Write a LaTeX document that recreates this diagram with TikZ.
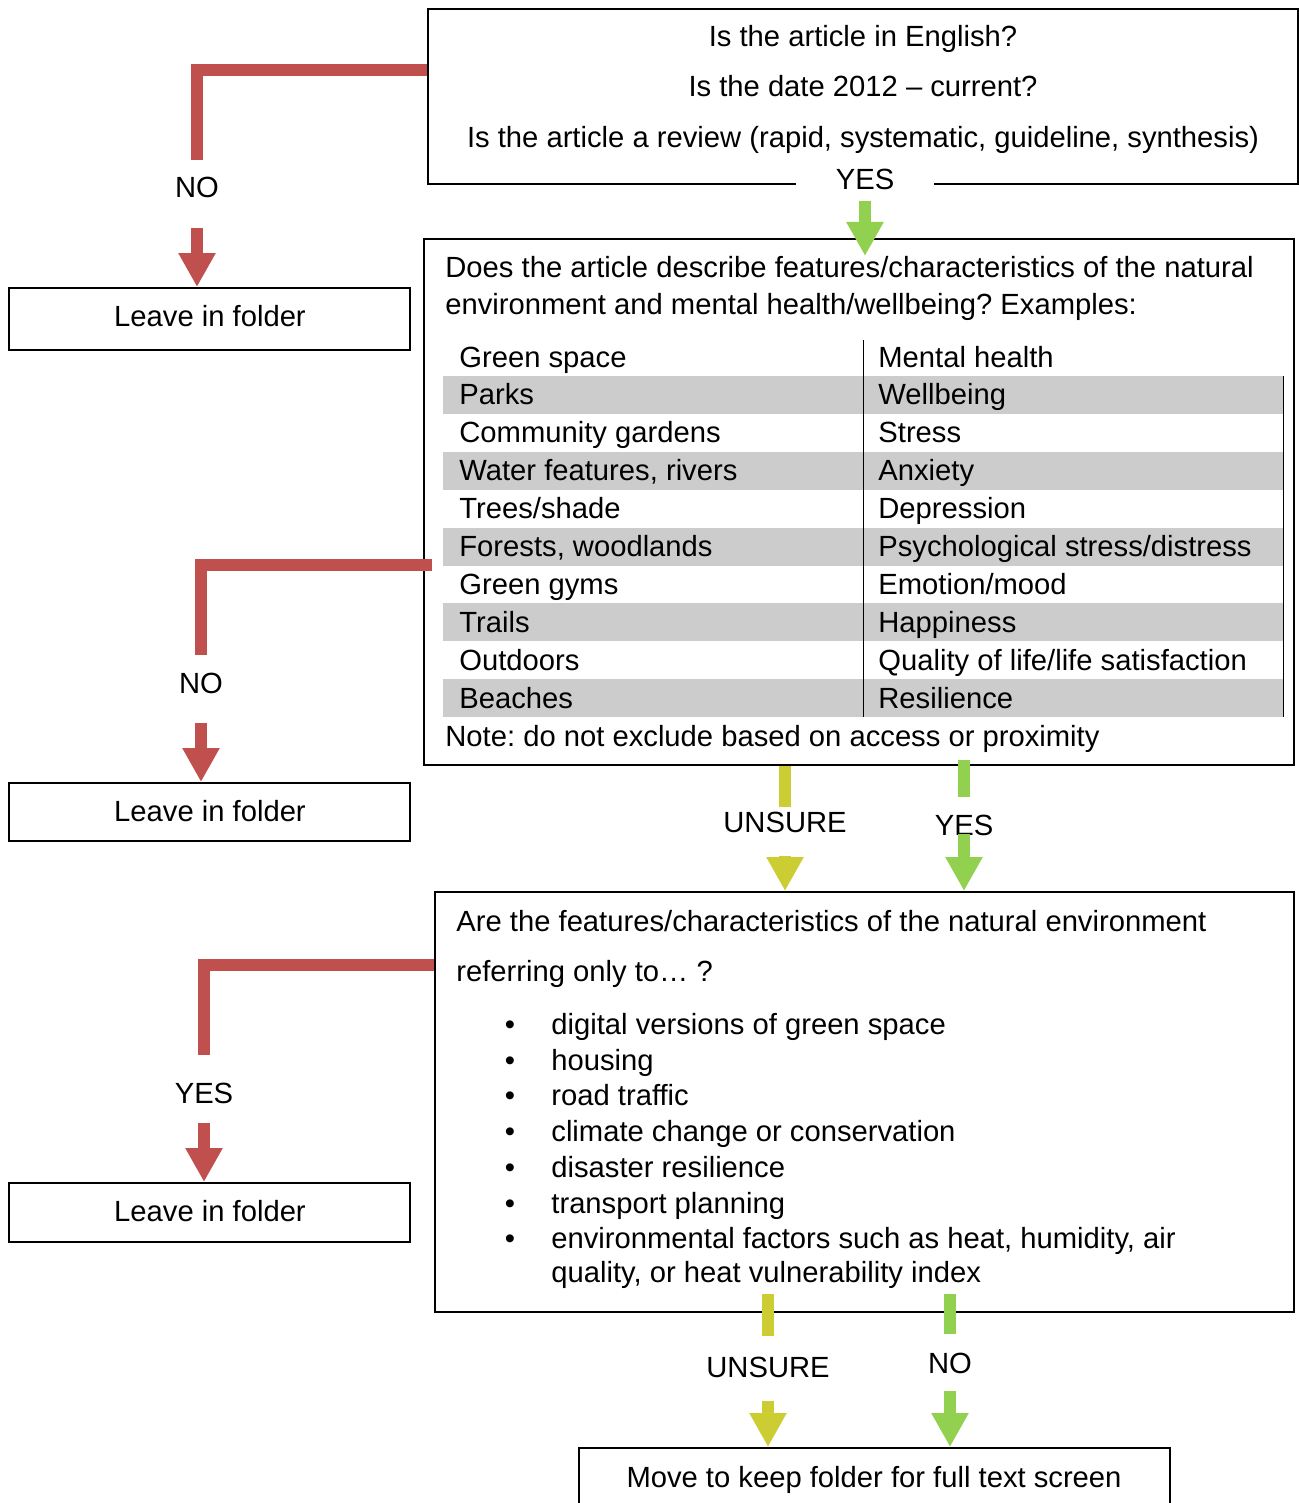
\documentclass[tikz,border=0pt]{standalone}
\usepackage{fontspec}
\setmainfont{Liberation Sans}
\usetikzlibrary{arrows.meta,fit}
\frenchspacing

\definecolor{noRed}{HTML}{C0504D}
\definecolor{yesGreen}{HTML}{92D050}
\definecolor{unsureYellow}{HTML}{CCCC33}
\definecolor{rowGrey}{HTML}{CCCCCC}

\begin{document}
\begin{tikzpicture}[x=0.5pt,y=-0.5pt,
    txt/.style={inner sep=0pt,anchor=base,font=\fontsize{14.6}{17.5}\selectfont},
    ltxt/.style={txt,anchor=base west},
    ans/.style={txt},
    qbox/.style={draw,line width=1pt,inner sep=0pt},
    redbar/.style={line width=6pt,noRed},
    greenbar/.style={line width=6pt,yesGreen},
    yellowbar/.style={line width=6pt,unsureYellow},
    redarrow/.style={redbar,-{Triangle[width=17.5pt,length=17pt]}},
    greenarrow/.style={greenbar,-{Triangle[width=17.5pt,length=17pt]}},
    yellowarrow/.style={yellowbar,-{Triangle[width=17.5pt,length=17pt]}}]
    \useasboundingbox (0,0) rectangle (1299,1503);

    % boxes
    \node[qbox, fit={(428,9) (1298,184)}] (q1) {};
    \node[qbox, fit={(424,239) (1294,765)}] (q2) {};
    \node[qbox, fit={(435,892) (1294,1312)}] (q3) {};
    \node[qbox, fit={(579,1448) (1170,1506)}] (keep) {};
    \node[qbox, fit={(9,288) (410,350)}] (leave1) {};
    \node[qbox, fit={(9,783) (410,841)}] (leave2) {};
    \node[qbox, fit={(9,1183) (410,1242)}] (leave3) {};

    % first question
    \node[txt] (q1a) at (863,47) {Is the article in English?};
    \node[txt] (q1b) at (863,97) {Is the date 2012 – current?};
    \node[txt] (q1c) at (863,148) {Is the article a review (rapid, systematic, guideline, synthesis)};

    % second question
    \node[ltxt] (q2a) at (445,278) {Does the article describe features/characteristics of the natural};
    \node[ltxt] (q2b) at (445,314) {environment and mental health/wellbeing? Examples:};
    \foreach \i in {2,4,6,8,10}
        \fill[rowGrey] (443,{357+37.9*(\i-1)-19}) rectangle (1283,{357+37.9*(\i-1)+19});
    \draw[line width=0.5pt] (863,340) -- (863,717);
    \draw[line width=0.5pt] (1283,376) -- (1283,717);
    \foreach \lt/\rt [count=\i] in {Green space/Mental health, Parks/Wellbeing,
        Community gardens/Stress, {Water features, rivers}/Anxiety,
        {Trees/shade}/Depression, {Forests, woodlands}/{Psychological stress/distress},
        Green gyms/{Emotion/mood}, Trails/Happiness,
        Outdoors/{Quality of life/life satisfaction}, Beaches/Resilience} {
        \node[ltxt] (l\i) at (459,{357+37.9*(\i-1)+10}) {\lt};
        \node[ltxt] (r\i) at (878,{357+37.9*(\i-1)+10}) {\rt};
    }
    \node[ltxt] (q2note) at (445,746) {Note: do not exclude based on access or proximity};

    % third question
    \node[ltxt] (q3a) at (456,931) {Are the features/characteristics of the natural environment};
    \node[ltxt] (q3b) at (456,981) {referring only to… ?};
    \foreach \y/\t [count=\i] in {1034/digital versions of green space, 1070/housing,
        1105/road traffic, 1141/climate change or conservation, 1177/disaster resilience,
        1213/transport planning, 1248/{environmental factors such as heat, humidity, air}} {
        \node[txt] (dot\i) at (510,\y) {•};
        \node[ltxt] (item\i) at (551,\y) {\t};
    }
    \node[ltxt] (item8) at (551,1282) {quality, or heat vulnerability index};

    % end boxes
    \node[txt] (leave1t) at (210,326) {Leave in folder};
    \node[txt] (leave2t) at (210,821) {Leave in folder};
    \node[txt] (leave3t) at (210,1221) {Leave in folder};
    \node[txt] (keept) at (874,1487) {Move to keep folder for full text screen};

    % answers
    \node[ans, fill=white, inner xsep=20pt] (yes1) at (865,190) {YES};
    \node[ans] (no1) at (197,198) {NO};
    \node[ans] (no2) at (201,693) {NO};
    \node[ans] (yes3) at (204,1103) {YES};
    \node[ans] (unsure1) at (785,832) {UNSURE};
    \node[ans] (yes2) at (964,835) {YES};
    \node[ans] (unsure2) at (768,1377) {UNSURE};
    \node[ans] (no3) at (950,1373) {NO};

    % q1
    \draw[redbar, shorten >=8.5pt] (q1.west |- 0,70) -| (no1.north);
    \draw[redarrow, shorten <=14.5pt] (no1.south) -- (no1 |- leave1.north);
    \draw[greenarrow, shorten <=5pt, shorten >=-9pt] (yes1.south) -- (yes1 |- q2.north);

    % q2
    \draw[redbar, shorten <=-4.5pt, shorten >=8.5pt] (q2.west |- 0,565) -| (no2.north);
    \draw[redarrow, shorten <=14.5pt] (no2.south) -- (no2 |- leave2.north);
    \draw[yellowbar, shorten >=2pt] (unsure1 |- q2.south) -- (unsure1.north);
    \draw[yellowarrow, shorten <=11.5pt] (unsure1.south) -- (unsure1 |- q3.north);
    \draw[greenbar, shorten <=-3pt, shorten >=8.5pt] (yes2 |- q2.south) -- (yes2.north);
    \draw[greenarrow, shorten <=-1pt] (yes2.south) -- (yes2 |- q3.north);

    % q3
    \draw[redbar, shorten >=13.5pt] (q3.west |- 0,965) -| (yes3.north);
    \draw[redarrow, shorten <=9.5pt] (yes3.south) -- (yes3 |- leave3.north);
    \draw[yellowbar, shorten <=-9.5pt, shorten >=10pt] (unsure2 |- q3.south) -- (unsure2.north);
    \draw[yellowarrow, shorten <=11.5pt] (unsure2.south) -- (unsure2 |- keep.north);
    \draw[greenbar, shorten <=-9.5pt, shorten >=9pt] (no3 |- q3.south) -- (no3.north);
    \draw[greenarrow, shorten <=8.5pt] (no3.south) -- (no3 |- keep.north);
\end{tikzpicture}
\end{document}
